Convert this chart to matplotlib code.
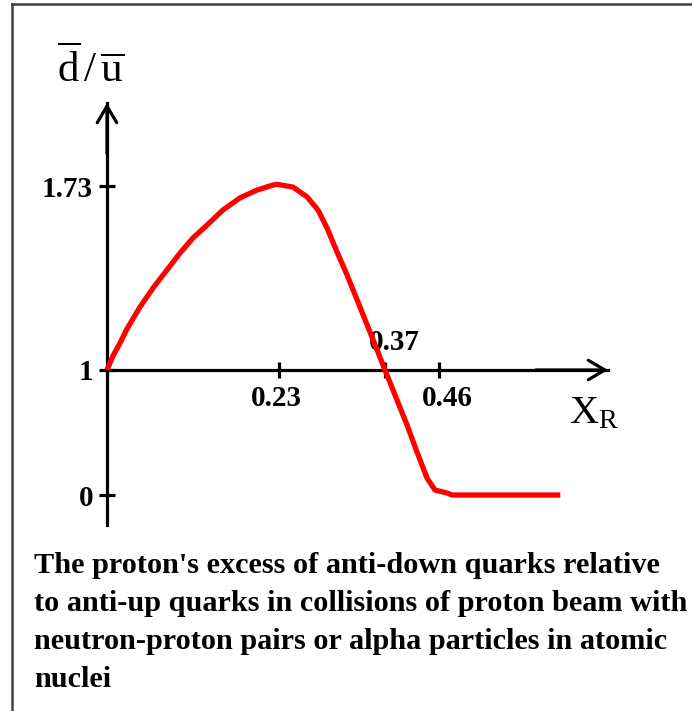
import numpy as np
import matplotlib
matplotlib.use("Agg")
import matplotlib.pyplot as plt
from matplotlib.lines import Line2D

plt.rcParams['font.family'] = ['Liberation Serif', 'DejaVu Serif']
plt.rcParams['mathtext.fontset'] = 'custom'
plt.rcParams['mathtext.rm'] = 'Liberation Serif'
plt.rcParams['mathtext.it'] = 'Liberation Serif:italic'
plt.rcParams['mathtext.bf'] = 'Liberation Serif:bold'

# ---------------- data ----------------
x_R = [0, 0.008, 0.0174, 0.0267, 0.0441, 0.0615, 0.0802, 0.0976, 0.115, 0.1337,
       0.1551, 0.1778, 0.2006, 0.222, 0.2273, 0.2485, 0.267, 0.2815,
       0.2935, 0.3067, 0.3199, 0.3332, 0.3464, 0.357, 0.37, 0.39, 0.4067,
       0.4233, 0.44, 0.4533, 0.4711, 0.478, 0.628]
ratio = [1.0, 1.056, 1.107, 1.163, 1.25, 1.325, 1.397, 1.464, 1.524, 1.575,
         1.635, 1.683, 1.714, 1.734, 1.737, 1.726, 1.687, 1.635,
         1.563, 1.468, 1.377, 1.278, 1.179, 1.099, 1.0, 0.76, 0.56,
         0.344, 0.136, 0.04, 0.016, 0.0, 0.0]
x_ticks = [0.23, 0.37, 0.46]
x_tick_labels = ['0.23', '0.37', '0.46']
y_ticks = [0, 1, 1.73]
y_tick_labels = ['0', '1', '1.73']
caption_lines = [
    "The proton's excess of anti-down quarks relative",
    "to anti-up quarks in collisions of proton beam with",
    "neutron-proton pairs or alpha particles in atomic",
    "nuclei",
]

# ---------------- schematic (piecewise linear) scales ----------------
XK = [0.0, 0.23, 0.37, 0.46]
PK = [0.0, 172.0, 278.0, 332.0]
sl_left = 172.0 / 0.23
sl_right = 722.0


def fx(x):
    x = np.asarray(x, dtype=float)
    out = np.interp(x, XK, PK)
    out = np.where(x < XK[0], x * sl_left, out)
    out = np.where(x > XK[-1], PK[-1] + (x - XK[-1]) * sl_right, out)
    return out


def fx_inv(p):
    p = np.asarray(p, dtype=float)
    out = np.interp(p, PK, XK)
    out = np.where(p < PK[0], p / sl_left, out)
    out = np.where(p > PK[-1], XK[-1] + (p - PK[-1]) / sl_right, out)
    return out


LOW, HIGH = 125.0, 252.0


def fy(y):
    y = np.asarray(y, dtype=float)
    return np.where(y <= 1, y * LOW, LOW + (y - 1) * HIGH)


def fy_inv(p):
    p = np.asarray(p, dtype=float)
    return np.where(p <= LOW, p / LOW, 1 + (p - LOW) / HIGH)


W, H = 692, 711
fig = plt.figure(figsize=(W / 100, H / 100), dpi=100)
fig.patch.set_facecolor('white')
ax = fig.add_axes([0, 0, 1, 1])
ax.set_xscale('function', functions=(fx, fx_inv))
ax.set_yscale('function', functions=(fy, fy_inv))

x0_px, y0_px = 107, 495
ax.set_xlim(float(fx_inv(-x0_px)), float(fx_inv(W - x0_px)))
ax.set_ylim(float(fy_inv(-(H - y0_px))), float(fy_inv(y0_px)))
ax.patch.set_alpha(0)

# axes lines via spines
for s in ['top', 'right']:
    ax.spines[s].set_visible(False)
ax.spines['left'].set_position(('data', 0))
ax.spines['bottom'].set_position(('data', 1))
y_axis_bottom = float(fy_inv(y0_px - 525))
y_axis_top = float(fy_inv(y0_px - 103))
x_axis_end = float(fx_inv(608 - x0_px))
ax.spines['left'].set_bounds(y_axis_bottom, y_axis_top)
ax.spines['bottom'].set_bounds(0, x_axis_end)
for s in ['left', 'bottom']:
    ax.spines[s].set_linewidth(2.3)
    ax.spines[s].set_color('black')

ax.set_xticks(x_ticks, ['', '', ''])
ax.set_yticks(y_ticks, y_tick_labels)
ax.xaxis.set_minor_locator(matplotlib.ticker.NullLocator())
ax.yaxis.set_minor_locator(matplotlib.ticker.NullLocator())
ax.tick_params(axis='both', direction='inout', length=12, width=2.3, color='black')
ax.tick_params(axis='y', pad=4, labelsize=21)
for lab in ax.get_yticklabels():
    lab.set_fontweight('bold')

# x tick labels: 0.23 and 0.46 below, 0.37 above
for xv, lab in zip(x_ticks, x_tick_labels):
    if lab == '0.37':
        ax.annotate(lab, xy=(xv, 1), xytext=(9, 27), textcoords='offset pixels',
                    ha='center', va='center', fontsize=21, fontweight='bold')
    else:
        dx = 8 if lab == '0.46' else -3
        ax.annotate(lab, xy=(xv, 1), xytext=(dx, -29), textcoords='offset pixels',
                    ha='center', va='center', fontsize=21, fontweight='bold')

# arrow heads
ax.annotate('', xy=(0, y_axis_top), xytext=(0, y_axis_top - 0.2),
            arrowprops=dict(arrowstyle='->,head_length=0.85,head_width=0.5',
                            lw=2.3, color='black', mutation_scale=14,
                            shrinkA=0, shrinkB=0))
ax.annotate('', xy=(x_axis_end, 1), xytext=(x_axis_end - 0.1, 1),
            arrowprops=dict(arrowstyle='->,head_length=0.85,head_width=0.5',
                            lw=2.3, color='black', mutation_scale=14,
                            shrinkA=0, shrinkB=0))

# curve
ax.plot(x_R, ratio, color='#ff0000', lw=3.8, solid_capstyle='butt',
        solid_joinstyle='round', zorder=5)

# axis labels
fig.text(91 / W, 1 - 69 / H, r'$\overline{\mathrm{d}}\,/\,\overline{\mathrm{u}}$',
         fontsize=31, ha='center', va='center')
fig.text(569 / W, 1 - 414 / H, r'$\mathrm{X}_{\mathrm{R}}$',
         fontsize=29, ha='left', va='center')

# caption
baselines = [573, 611, 649, 687]
for line, b in zip(caption_lines, baselines):
    fig.text(34 / W, 1 - b / H, line, fontsize=21.8, fontweight='bold',
             ha='left', va='baseline')

# frame (top and left)
fig.add_artist(Line2D([12 / W, 12 / W], [0, 1 - 3.5 / H], transform=fig.transFigure,
                      color='#404040', lw=1.8))
fig.add_artist(Line2D([12 / W, 1], [1 - 3.5 / H, 1 - 3.5 / H], transform=fig.transFigure,
                      color='#404040', lw=1.8))

fig.savefig('out.png', dpi=100)
